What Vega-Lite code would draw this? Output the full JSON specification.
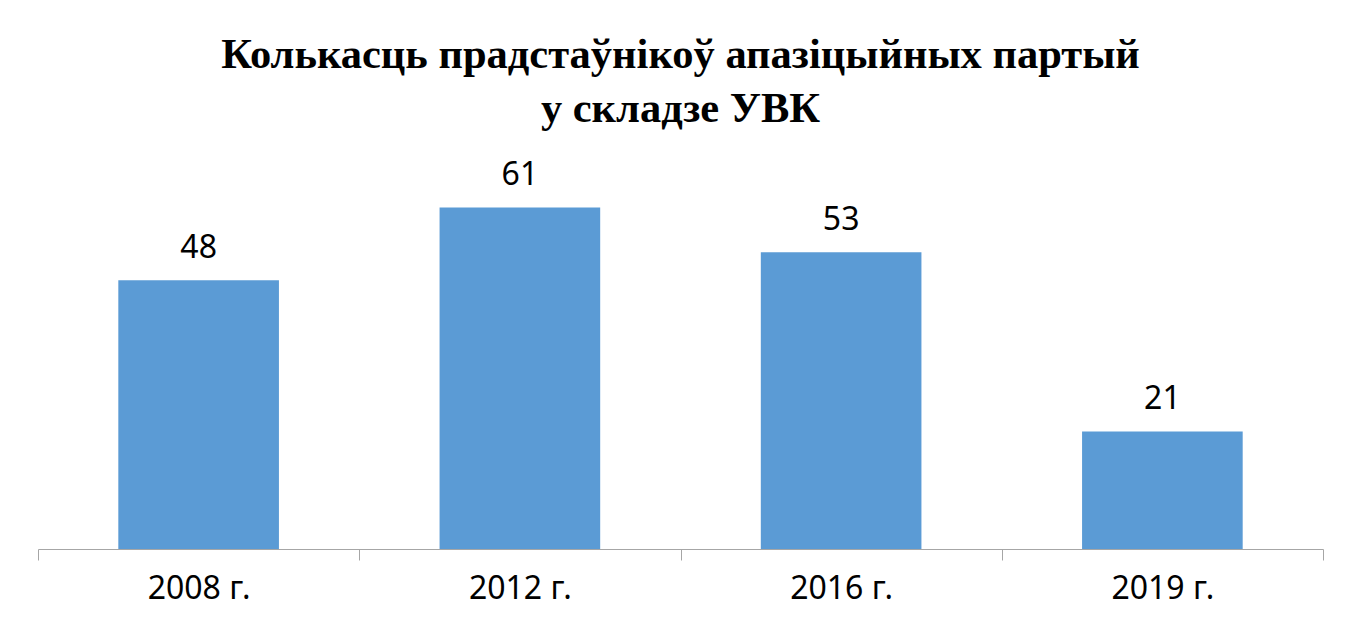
{
  "$schema": "https://vega.github.io/schema/vega-lite/v6.json",
  "autosize": "none",
  "width": 1285,
  "height": 392,
  "padding": {"left": 38, "top": 157, "right": 28, "bottom": 83},
  "background": "white",
  "title": {
    "text": ["Колькасць прадстаўнікоў апазіцыйных партый", "у складзе УВК"],
    "font": "Liberation Serif",
    "fontSize": 42.5,
    "fontWeight": "bold",
    "color": "black",
    "lineHeight": 54,
    "anchor": "middle",
    "offset": 27
  },
  "data": {
    "values": [
      {"year": "2008 г.", "value": 48},
      {"year": "2012 г.", "value": 61},
      {"year": "2016 г.", "value": 53},
      {"year": "2019 г.", "value": 21}
    ]
  },
  "encoding": {
    "x": {
      "field": "year",
      "type": "nominal",
      "sort": null,
      "title": null,
      "scale": {"paddingInner": 0, "paddingOuter": 0},
      "axis": {
        "labelAngle": 0,
        "labelFont": "Noto Sans",
        "labelFontSize": 32,
        "labelColor": "black",
        "labelPadding": 13,
        "tickBand": "extent",
        "tickSize": 11,
        "tickColor": "#a6a6a6",
        "domainColor": "#a6a6a6",
        "domainWidth": 1,
        "tickWidth": 1,
        "grid": false
      }
    },
    "y": {
      "field": "value",
      "type": "quantitative",
      "scale": {"domain": [0, 70]},
      "axis": null
    }
  },
  "layer": [
    {"mark": {"type": "bar", "color": "#5B9BD5", "width": {"band": 0.5}}},
    {
      "mark": {
        "type": "text",
        "font": "Noto Sans",
        "fontSize": 32,
        "color": "black",
        "baseline": "alphabetic",
        "dy": -22
      },
      "encoding": {"text": {"field": "value", "type": "quantitative"}}
    }
  ],
  "config": {"view": {"stroke": null}}
}
